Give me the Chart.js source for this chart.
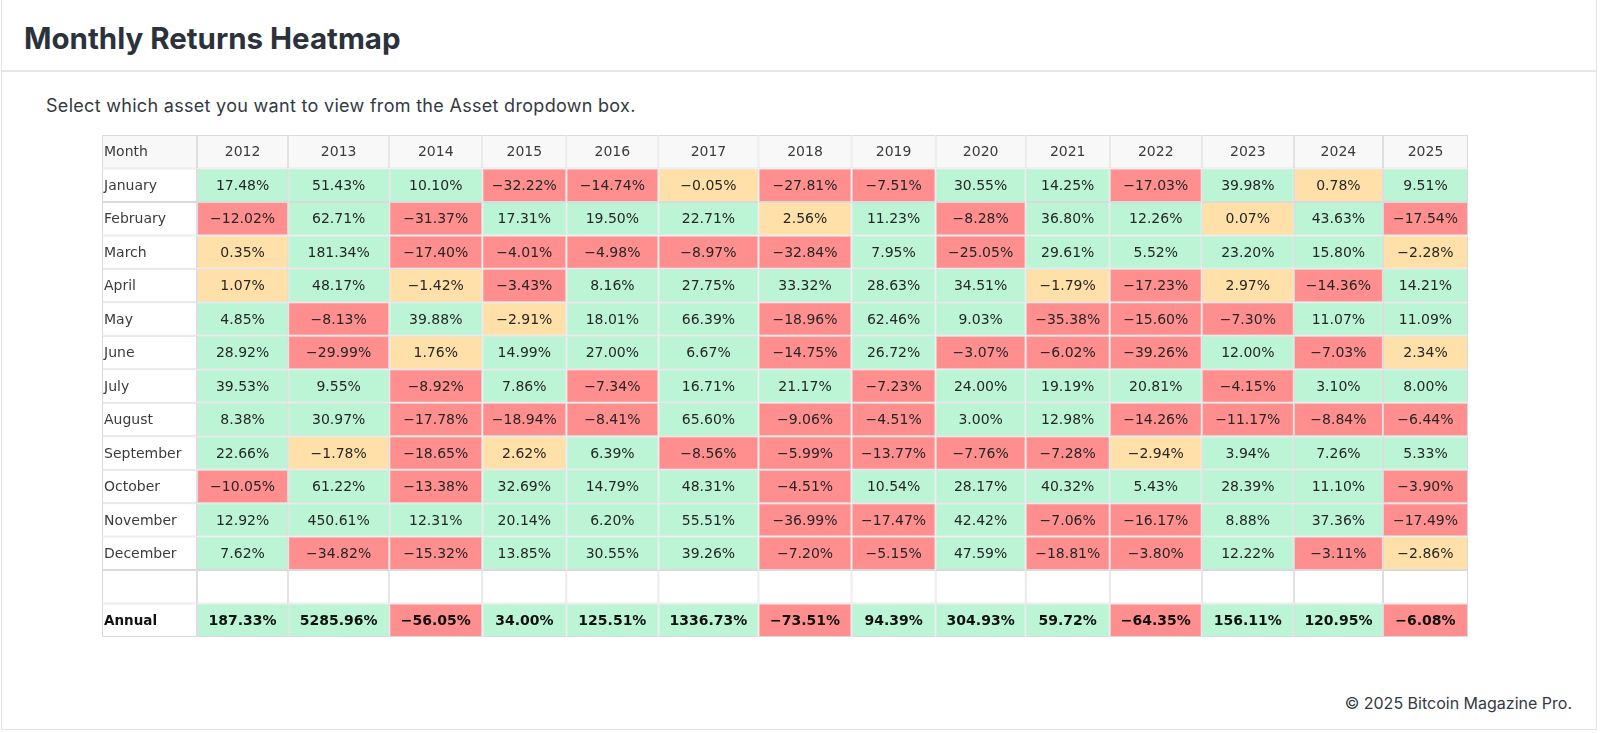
<!DOCTYPE html>
<html>
<head>
<meta charset="utf-8">
<script src="https://cdn.jsdelivr.net/npm/chart.js@4.4.1/dist/chart.umd.min.js"></script>
<style>
  html, body { margin: 0; padding: 0; background: #ffffff; }
  body { width: 1600px; height: 733px; position: relative; overflow: hidden; font-family: Inter, "Noto Sans", sans-serif; }
  .card { position: absolute; left: 1px; top: -1px; width: 1596px; height: 731px; border: 1px solid #e3e3e3; box-sizing: border-box; }
  .hdr-line { position: absolute; left: 1px; top: 70px; width: 1596px; height: 2px; background: #e6e6e6; }
  h1 { position: absolute; left: 24px; top: 20px; margin: 0; font-size: 29.5px; line-height: 36px; font-weight: 700; color: #2b323c; }
  .sub { position: absolute; left: 46px; top: 94px; margin: 0; font-size: 18px; line-height: 24px; letter-spacing: 0.3px; color: #333a42; }
  .foot { position: absolute; right: 28px; top: 692px; margin: 0; font-size: 16px; line-height: 22px; color: #333a42; }
  #wrap { position: absolute; left: 102px; top: 135px; width: 1366px; height: 502px; }
</style>
</head>
<body>
<div class="card"></div>
<div class="hdr-line"></div>
<h1>Monthly Returns Heatmap</h1>
<p class="sub">Select which asset you want to view from the Asset dropdown box.</p>
<p class="foot">© 2025 Bitcoin Magazine Pro.</p>
<div id="wrap"><canvas id="c"></canvas></div>
<script>
// ---- data ----
const years = ['2012','2013','2014','2015','2016','2017','2018','2019','2020','2021','2022','2023','2024','2025'];
const months = ['January','February','March','April','May','June','July','August','September','October','November','December'];
const r2012 = [17.48, -12.02, 0.35, 1.07, 4.85, 28.92, 39.53, 8.38, 22.66, -10.05, 12.92, 7.62];
const r2013 = [51.43, 62.71, 181.34, 48.17, -8.13, -29.99, 9.55, 30.97, -1.78, 61.22, 450.61, -34.82];
const r2014 = [10.10, -31.37, -17.40, -1.42, 39.88, 1.76, -8.92, -17.78, -18.65, -13.38, 12.31, -15.32];
const r2015 = [-32.22, 17.31, -4.01, -3.43, -2.91, 14.99, 7.86, -18.94, 2.62, 32.69, 20.14, 13.85];
const r2016 = [-14.74, 19.50, -4.98, 8.16, 18.01, 27.00, -7.34, -8.41, 6.39, 14.79, 6.20, 30.55];
const r2017 = [-0.05, 22.71, -8.97, 27.75, 66.39, 6.67, 16.71, 65.60, -8.56, 48.31, 55.51, 39.26];
const r2018 = [-27.81, 2.56, -32.84, 33.32, -18.96, -14.75, 21.17, -9.06, -5.99, -4.51, -36.99, -7.20];
const r2019 = [-7.51, 11.23, 7.95, 28.63, 62.46, 26.72, -7.23, -4.51, -13.77, 10.54, -17.47, -5.15];
const r2020 = [30.55, -8.28, -25.05, 34.51, 9.03, -3.07, 24.00, 3.00, -7.76, 28.17, 42.42, 47.59];
const r2021 = [14.25, 36.80, 29.61, -1.79, -35.38, -6.02, 19.19, 12.98, -7.28, 40.32, -7.06, -18.81];
const r2022 = [-17.03, 12.26, 5.52, -17.23, -15.60, -39.26, 20.81, -14.26, -2.94, 5.43, -16.17, -3.80];
const r2023 = [39.98, 0.07, 23.20, 2.97, -7.30, 12.00, -4.15, -11.17, 3.94, 28.39, 8.88, 12.22];
const r2024 = [0.78, 43.63, 15.80, -14.36, 11.07, -7.03, 3.10, -8.84, 7.26, 11.10, 37.36, -3.11];
const r2025 = [9.51, -17.54, -2.28, 14.21, 11.09, 2.34, 8.00, -6.44, 5.33, -3.90, -17.49, -2.86];
const annual = [187.33, 5285.96, -56.05, 34.00, 125.51, 1336.73, -73.51, 94.39, 304.93, 59.72, -64.35, 156.11, 120.95, -6.08];

const monthly = [r2012, r2013, r2014, r2015, r2016, r2017, r2018, r2019, r2020, r2021, r2022, r2023, r2024, r2025];

// ---- layout (column widths in px-like units) ----
const colWidths = [95, 91, 101, 93, 84, 92, 100, 93, 84, 90, 84, 92, 92, 89, 85];
const edges = [0];
colWidths.forEach(w => edges.push(edges[edges.length - 1] + w));
const rowLabels = ['Month'].concat(months, [' ', 'Annual']);
const nRows = rowLabels.length;

const GREEN = '#bcf5d6', RED = '#ff8f8f', YELLOW = '#ffe0a8', HEAD = '#f8f8f8', WHITE = '#ffffff', GRID = '#dadada';
const FONT = '"DejaVu Sans", Verdana, sans-serif';

function cellValue(col, row) {
  if (col === 0) return null;
  const yi = col - 1;
  if (row >= 1 && row <= 12) return monthly[yi][row - 1];
  if (row === 14) return annual[yi];
  return null;
}
function cellColor(col, row) {
  if (row === 0) return HEAD;
  const v = cellValue(col, row);
  if (v === null) return WHITE;
  if (v >= 3) return GREEN;
  if (v > -3) return YELLOW;
  return RED;
}
function fmt(v) {
  const s = Math.abs(v).toFixed(2) + '%';
  return v < 0 ? '\u2212' + s : s;
}

const datasets = colWidths.map((w, c) => ({
  label: c === 0 ? 'Month' : years[c - 1],
  data: rowLabels.map(() => [edges[c], edges[c + 1]]),
  backgroundColor: ctx => cellColor(c, ctx.dataIndex),
  borderColor: GRID,
  borderWidth: 1,
  borderSkipped: false,
  inflateAmount: 0,
  grouped: false,
  barPercentage: 1,
  categoryPercentage: 1
}));

const textPlugin = {
  id: 'cellText',
  afterDatasetsDraw(chart) {
    const { ctx, scales } = chart;
    const xs = scales.x, ys = scales.y;
    ctx.save();
    ctx.textBaseline = 'middle';
    for (let r = 0; r < nRows; r++) {
      const y = ys.getPixelForValue(r) + 1;
      for (let c = 0; c < colWidths.length; c++) {
        let txt = null, font = '14px ' + FONT, color = '#262626', align = 'center';
        let x = xs.getPixelForValue((edges[c] + edges[c + 1]) / 2);
        if (c === 0) {
          txt = rowLabels[r].trim();
          align = 'left';
          x = xs.getPixelForValue(edges[0]) + 2;
          color = '#3c3c3c';
          if (r === 14) { font = 'bold 13.5px ' + FONT; color = '#111111'; }
        } else if (r === 0) {
          txt = years[c - 1];
          color = '#3c3c3c';
        } else {
          const v = cellValue(c, r);
          if (v !== null) txt = fmt(v);
          if (r === 14) { font = 'bold 14px ' + FONT; color = '#111111'; }
        }
        if (!txt) continue;
        ctx.font = font;
        ctx.fillStyle = color;
        ctx.textAlign = align;
        ctx.fillText(txt, x, y);
      }
    }
    ctx.restore();
  }
};

new Chart(document.getElementById('c'), {
  type: 'bar',
  data: { labels: rowLabels, datasets },
  options: {
    indexAxis: 'y',
    responsive: true,
    maintainAspectRatio: false,
    animation: false,
    layout: { padding: 0 },
    plugins: { legend: { display: false }, tooltip: { enabled: false }, title: { display: false } },
    scales: {
      x: { type: 'linear', min: edges[0], max: edges[edges.length - 1], display: false },
      y: { type: 'category', display: false, offset: true }
    }
  },
  plugins: [textPlugin]
});
</script>
</body>
</html>
